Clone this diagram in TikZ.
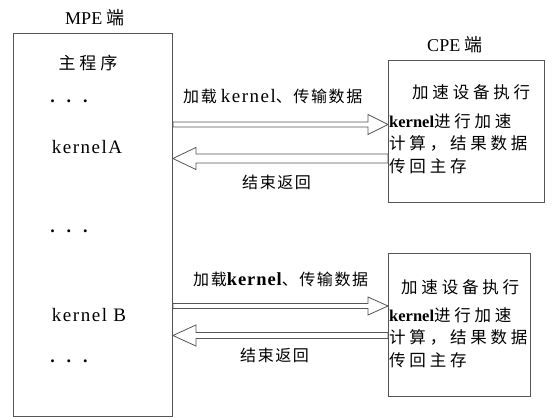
\documentclass[tikz,border=0pt]{standalone}
\usepackage{fontspec}
\setmainfont{Liberation Serif}
\newfontfamily\zhbox[LetterSpace=23]{Noto Sans CJK SC}
\newfontfamily\zhlab[LetterSpace=10]{Noto Sans CJK SC}
\newfontfamily\zhtag{Noto Sans CJK SC}
\newfontfamily\latwide[LetterSpace=8]{Liberation Serif}
\usetikzlibrary{calc}
\definecolor{linegray}{RGB}{85,85,85}
\tikzset{
  frame/.style={draw=linegray, line width=0.9pt, inner sep=0pt, anchor=north west},
  hollow/.style={draw=linegray, line width=0.8pt, line join=miter, fill=white},
  lbl/.style={inner sep=0pt, font=\fontsize{18}{20}\selectfont, text=black, anchor=base},
  boxtxt/.style={inner sep=0pt, font=\fontsize{16.5}{20}\selectfont, text=black, anchor=base west},
  arrtxt/.style={inner sep=0pt, font=\fontsize{16}{20}\selectfont, text=black, anchor=base west},
}
% forward hollow arrow: from node #1 (east side) to node #2 (west side)
\newcommand\fwdarrow[6]{%
  \coordinate (ya) at (0,#3-#4);
  \coordinate (yb) at (0,#3+#4);
  \coordinate (yc) at (0,#3-#5);
  \coordinate (yd) at (0,#3+#5);
  \coordinate (ym) at (0,#3);
  \draw[hollow] (#1.east |- ya) -- ($(#2.west |- ya)+(-#6,0)$) -- ($(#2.west |- yc)+(-#6,0)$)
    -- (#2.west |- ym) -- ($(#2.west |- yd)+(-#6,0)$) -- ($(#2.west |- yb)+(-#6,0)$)
    -- (#1.east |- yb) -- cycle;}
% backward hollow arrow: from node #2 (west side) back to node #1 (east side)
\newcommand\backarrow[6]{%
  \coordinate (ya) at (0,#3-#4);
  \coordinate (yb) at (0,#3+#4);
  \coordinate (yc) at (0,#3-#5);
  \coordinate (yd) at (0,#3+#5);
  \coordinate (ym) at (0,#3);
  \draw[hollow] (#1.east |- ym) -- ($(#1.east |- yc)+(#6,0)$) -- ($(#1.east |- ya)+(#6,0)$)
    -- (#2.west |- ya) -- (#2.west |- yb) -- ($(#1.east |- yb)+(#6,0)$)
    -- ($(#1.east |- yd)+(#6,0)$) -- cycle;}
\begin{document}
\begin{tikzpicture}[x=1pt,y=-1pt]
\useasboundingbox[fill=white] (0,0) rectangle (555,417);
% boxes (placed first, outlines drawn after the arrows)
\path (13,33) node[frame, draw=none, minimum width=159, minimum height=383] (mpe) {};
\path (388,60) node[frame, draw=none, minimum width=156, minimum height=142] (cpe1) {};
\path (388,253) node[frame, draw=none, minimum width=142, minimum height=143] (cpe2) {};
% arrows
\fwdarrow{mpe}{cpe1}{124.5}{2.5}{10}{20}
\backarrow{mpe}{cpe1}{158.5}{4.5}{11}{23}
\fwdarrow{mpe}{cpe2}{306}{2.5}{9}{20}
\backarrow{mpe}{cpe2}{335.5}{3}{10.5}{23}
% box outlines
\draw[linegray, line width=0.9pt] (mpe.north west) rectangle (mpe.south east);
\draw[linegray, line width=0.9pt] (cpe1.north west) rectangle (cpe1.south east);
\draw[linegray, line width=0.9pt] (cpe2.north west) rectangle (cpe2.south east);
% MPE side
\node[lbl] (mpelbl) at (95,25) {MPE {\zhtag 端}};
\node[lbl, font=\fontsize{17}{20}\selectfont] (mainprog) at (88,70) {\zhbox 主程序};
\node[lbl] (dotsa) at (69,103) {\bfseries .\hspace{12pt}.\hspace{12pt}.};
\node[lbl, font=\fontsize{19}{20}\selectfont] (kerA) at (87,154) {\latwide kernelA};
\node[lbl] (dotsb) at (69,233) {\bfseries .\hspace{12pt}.\hspace{12pt}.};
\node[lbl, font=\fontsize{19}{20}\selectfont] (kerB) at (89,322) {\latwide kernel B};
\node[lbl] (dotsc) at (69,362) {\bfseries .\hspace{12pt}.\hspace{12pt}.};
% CPE side
\node[lbl] (cpelbl) at (455,52) {CPE {\zhtag 端}};
\node[boxtxt] (c1l1) at (412,99) {\zhbox 加速设备执行};
\node[boxtxt] (c1l2) at (389,128) {\textbf{kernel}\zhbox 进行加速};
\node[boxtxt] (c1l3) at (389,150) {\zhbox 计算，结果数据};
\node[boxtxt] (c1l4) at (389,173) {\zhbox 传回主存};
\node[boxtxt] (c2l1) at (401,294) {\zhbox 加速设备执行};
\node[boxtxt] (c2l2) at (389,321) {\textbf{kernel}\zhbox 进行加速};
\node[boxtxt] (c2l3) at (389,343) {\zhbox 计算，结果数据};
\node[boxtxt] (c2l4) at (389,366) {\zhbox 传回主存};
% arrow labels
\node[arrtxt] (lab1) at (183,103) {{\zhlab 加载} {\fontsize{19}{20}\latwide kernel}{\zhlab 、传输数据}};
\node[arrtxt] (ret1) at (242,189) {\zhlab 结束返回};
\node[arrtxt] (lab2) at (193,286) {{\zhlab 加载}{\fontsize{18.5}{20}\bfseries\addfontfeatures{LetterSpace=5}kernel}{\zhlab 、传输数据}};
\node[arrtxt] (ret2) at (240,361) {\zhlab 结束返回};
\end{tikzpicture}
\end{document}
